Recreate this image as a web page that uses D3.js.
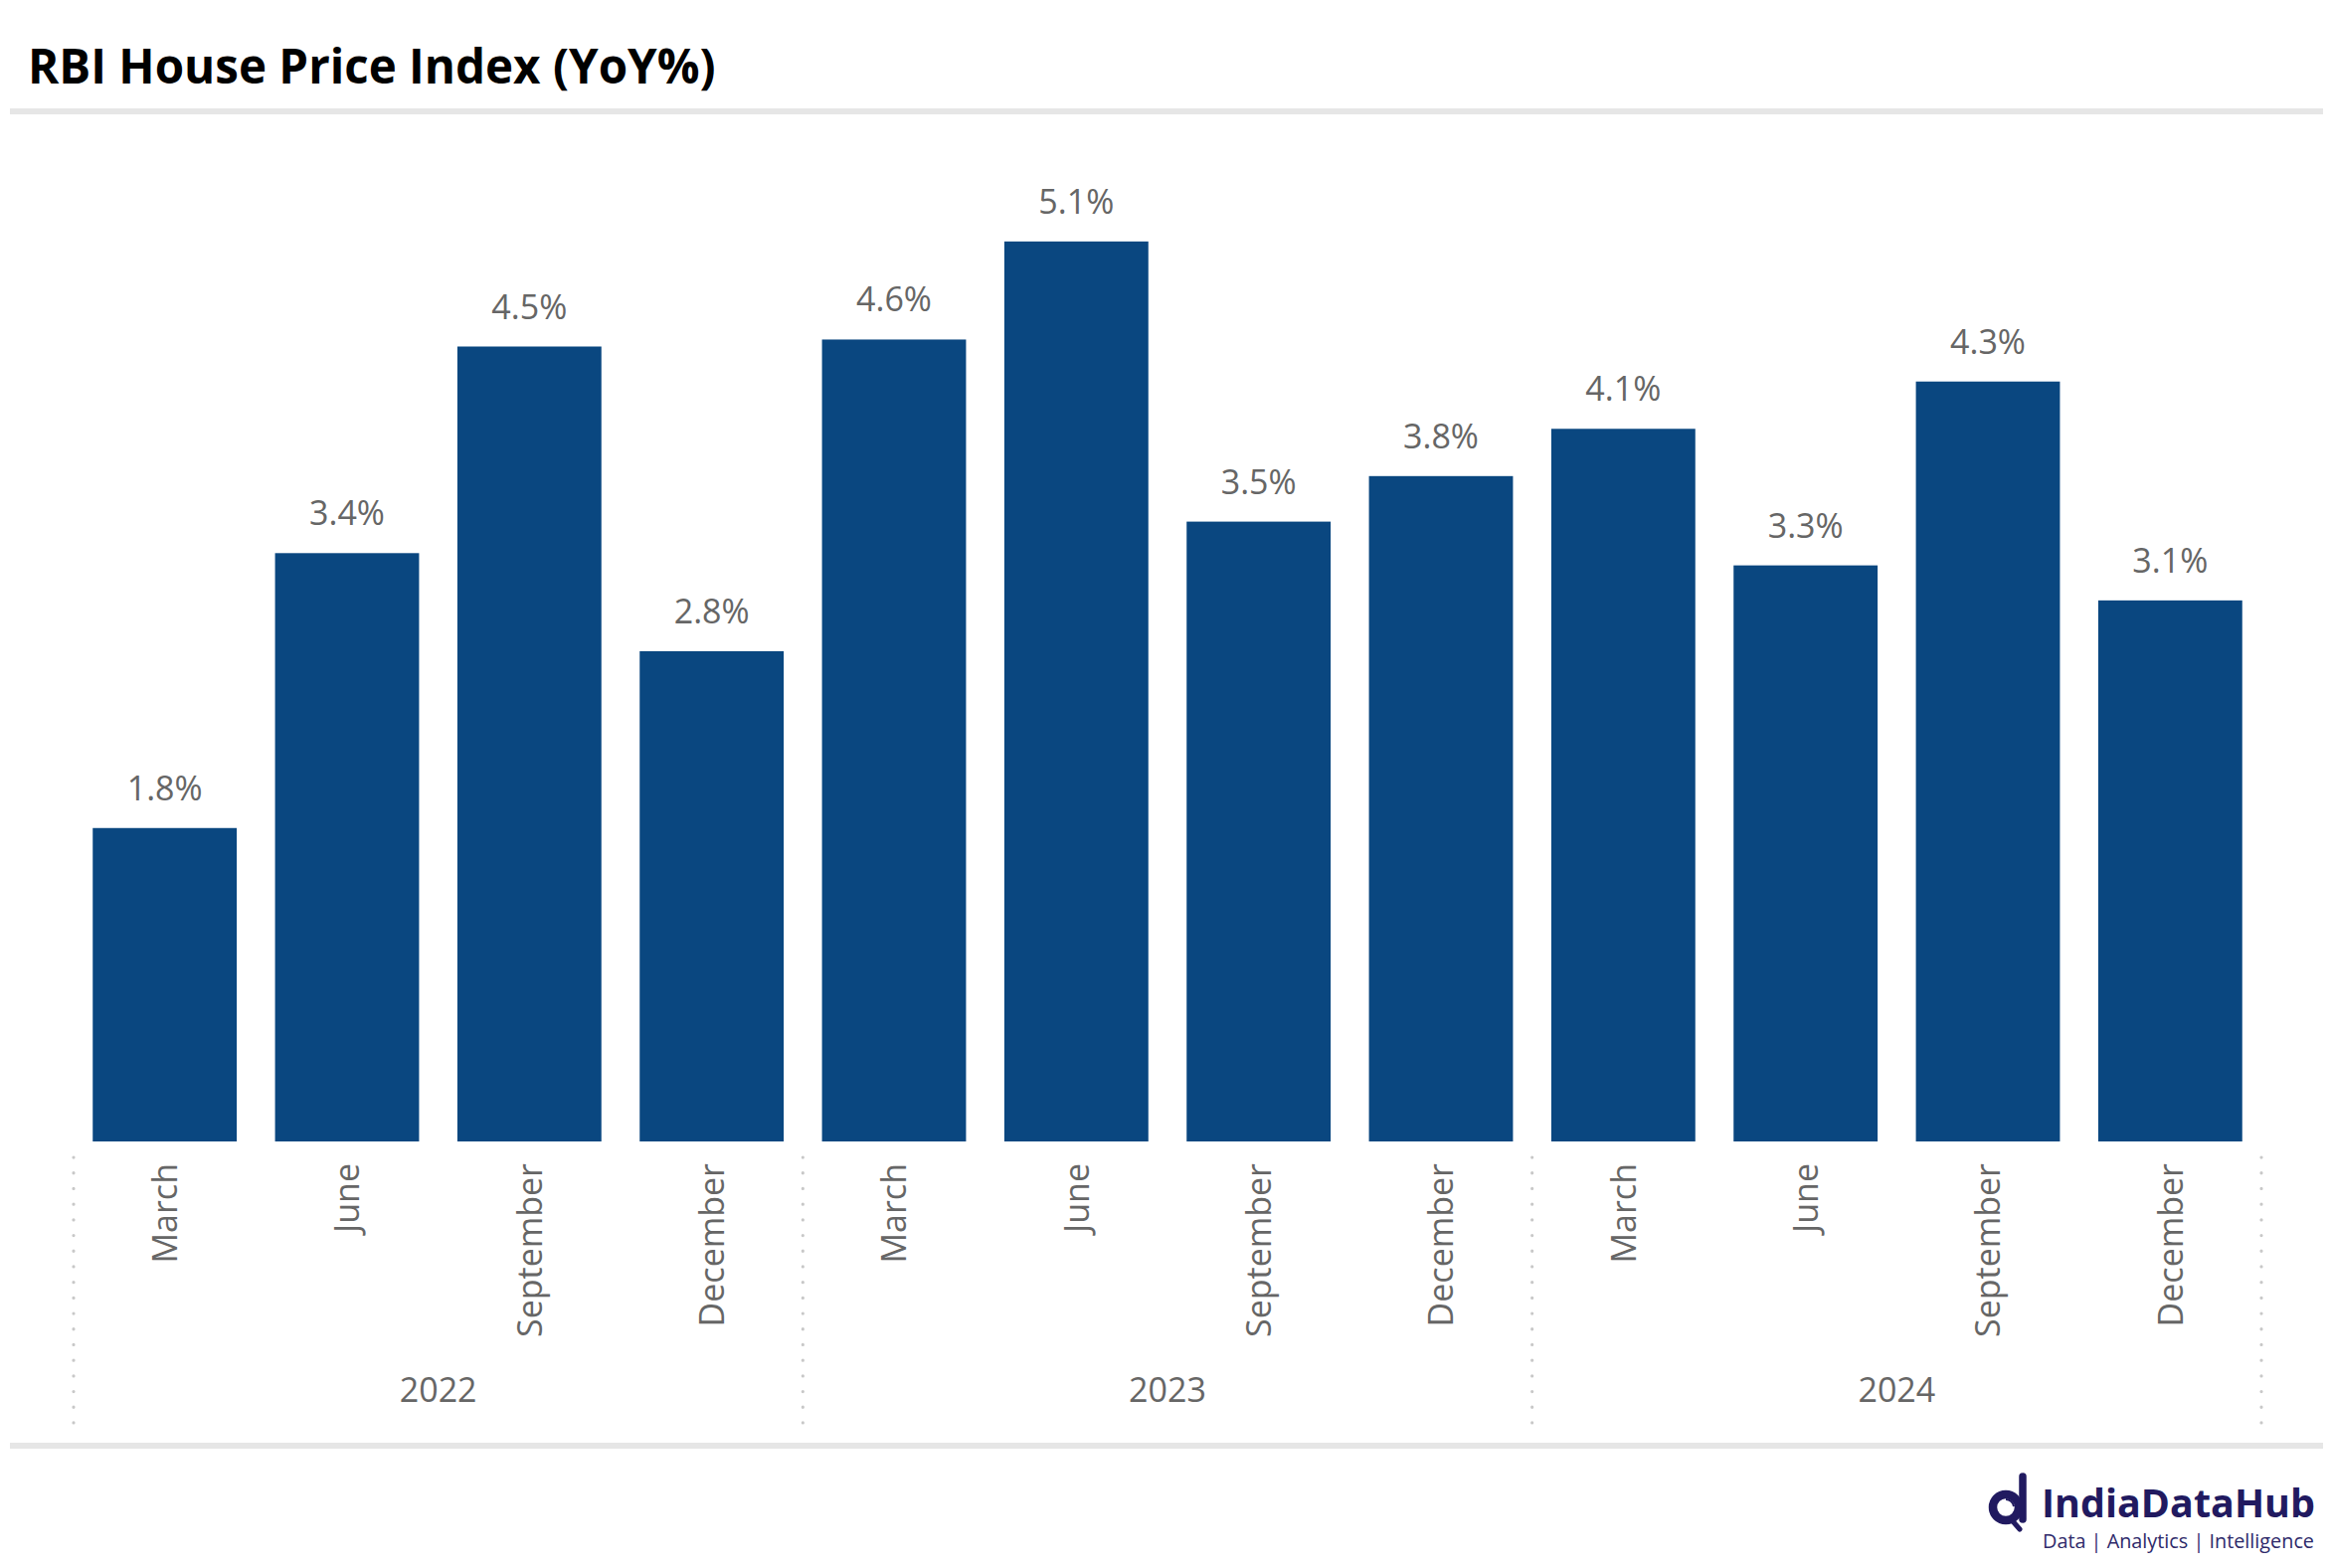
<!DOCTYPE html>
<html>
<head>
<meta charset="utf-8">
<script src="https://cdn.jsdelivr.net/npm/d3@7"></script>
<style>
  body { margin: 0; background: #fff; }
  text { font-family: "Segoe UI", "Open Sans", sans-serif; }
</style>
</head>
<body>
<div id="chart"></div>
<script>
// quarterly data, RBI HPI yoy % (labels show 1 decimal)
var months = ["March", "June", "September", "December",
              "March", "June", "September", "December",
              "March", "June", "September", "December"];
var years = ["2022", "2023", "2024"];
var values = [1.79, 3.36, 4.54, 2.80, 4.58, 5.14, 3.54, 3.80, 4.07, 3.29, 4.34, 3.09];

var W = 2344, H = 1577;
var base = 1148;

var svg = d3.select("#chart").append("svg")
  .attr("width", W)
  .attr("height", H);

// title + rules
svg.append("text")
  .attr("x", 28)
  .attr("y", 84)
  .attr("font-size", 47.5)
  .attr("font-weight", "bold")
  .attr("fill", "#000")
  .text("RBI House Price Index (YoY%)");

svg.append("rect").attr("x", 10).attr("y", 109).attr("width", 2326).attr("height", 6).attr("fill", "#e6e6e6");
svg.append("rect").attr("x", 10).attr("y", 1451).attr("width", 2326).attr("height", 6).attr("fill", "#e6e6e6");

var x = d3.scaleBand()
  .domain(d3.range(values.length))
  .range([74, 2274])
  .paddingInner(0.21)
  .paddingOuter(0.105);

var y = d3.scaleLinear()
  .domain([0, 6])
  .range([base, base - 6 * 176.1]);

var g = svg.append("g");

g.selectAll("rect.bar")
  .data(values)
  .enter()
  .append("rect")
  .attr("class", "bar")
  .attr("x", (d, i) => x(i))
  .attr("y", d => y(d))
  .attr("width", x.bandwidth())
  .attr("height", d => base - y(d))
  .attr("fill", "#0a4780");

g.selectAll("text.lbl")
  .data(values)
  .enter()
  .append("text")
  .attr("class", "lbl")
  .attr("x", (d, i) => x(i) + x.bandwidth() / 2)
  .attr("y", d => y(d) - 28)
  .attr("text-anchor", "middle")
  .attr("font-size", 34)
  .attr("fill", "#666")
  .text(d => d.toFixed(1) + "%");

// month axis, rotated labels
var xAxis = d3.axisBottom(x).tickSize(0).tickFormat(i => months[i]);
var ax = svg.append("g")
  .attr("transform", `translate(0,${base})`)
  .call(xAxis);
ax.select(".domain").remove();
ax.selectAll("text")
  .attr("transform", "rotate(-90)")
  .attr("x", -22)
  .attr("y", 0)
  .attr("dy", "0.36em")
  .attr("text-anchor", "end")
  .attr("font-size", 34)
  .attr("font-family", "'Segoe UI', 'Open Sans', sans-serif")
  .attr("fill", "#666");

// year groups
var half = (x.step() - x.bandwidth()) / 2;
var bounds = years.map((yr, k) => x(k * 4) - half);
bounds.push(x(values.length - 1) + x.bandwidth() + half);

svg.append("g")
  .selectAll("line")
  .data(bounds)
  .enter()
  .append("line")
  .attr("x1", d => d).attr("x2", d => d)
  .attr("y1", 1164).attr("y2", 1432)
  .attr("stroke", "#c8c8c8")
  .attr("stroke-width", 3.2)
  .attr("stroke-linecap", "round")
  .attr("stroke-dasharray", "0.1,15.6");

svg.append("g")
  .selectAll("text")
  .data(years)
  .enter()
  .append("text")
  .attr("x", (d, k) => (bounds[k] + bounds[k + 1]) / 2)
  .attr("y", 1410)
  .attr("text-anchor", "middle")
  .attr("font-size", 34)
  .attr("fill", "#666")
  .text(d => d);

// logo
var navy = "#211a60";
var logo = svg.append("g");
logo.append("circle").attr("cx", 2017).attr("cy", 1516).attr("r", 13)
  .attr("fill", "none").attr("stroke", navy).attr("stroke-width", 8.5);
logo.append("line").attr("x1", 2034).attr("x2", 2034).attr("y1", 1485).attr("y2", 1528)
  .attr("stroke", navy).attr("stroke-width", 7.5).attr("stroke-linecap", "round");
logo.append("line").attr("x1", 2024).attr("x2", 2031).attr("y1", 1530).attr("y2", 1538)
  .attr("stroke", navy).attr("stroke-width", 5).attr("stroke-linecap", "round");
logo.append("path").attr("d", "M2017,1508 a8,8 0 0 1 8,7")
  .attr("fill", "none").attr("stroke", navy).attr("stroke-width", 2);
logo.append("text")
  .attr("x", 2053).attr("y", 1526)
  .attr("font-size", 39).attr("font-weight", "bold")
  .attr("font-family", "Lato, sans-serif")
  .attr("fill", navy)
  .attr("textLength", 275).attr("lengthAdjust", "spacingAndGlyphs")
  .text("IndiaDataHub");
logo.append("text")
  .attr("x", 2054).attr("y", 1557)
  .attr("font-size", 20)
  .attr("font-family", "Lato, sans-serif")
  .attr("fill", "#2e2a6a")
  .attr("textLength", 273).attr("lengthAdjust", "spacingAndGlyphs")
  .text("Data | Analytics | Intelligence");
</script>
</body>
</html>
